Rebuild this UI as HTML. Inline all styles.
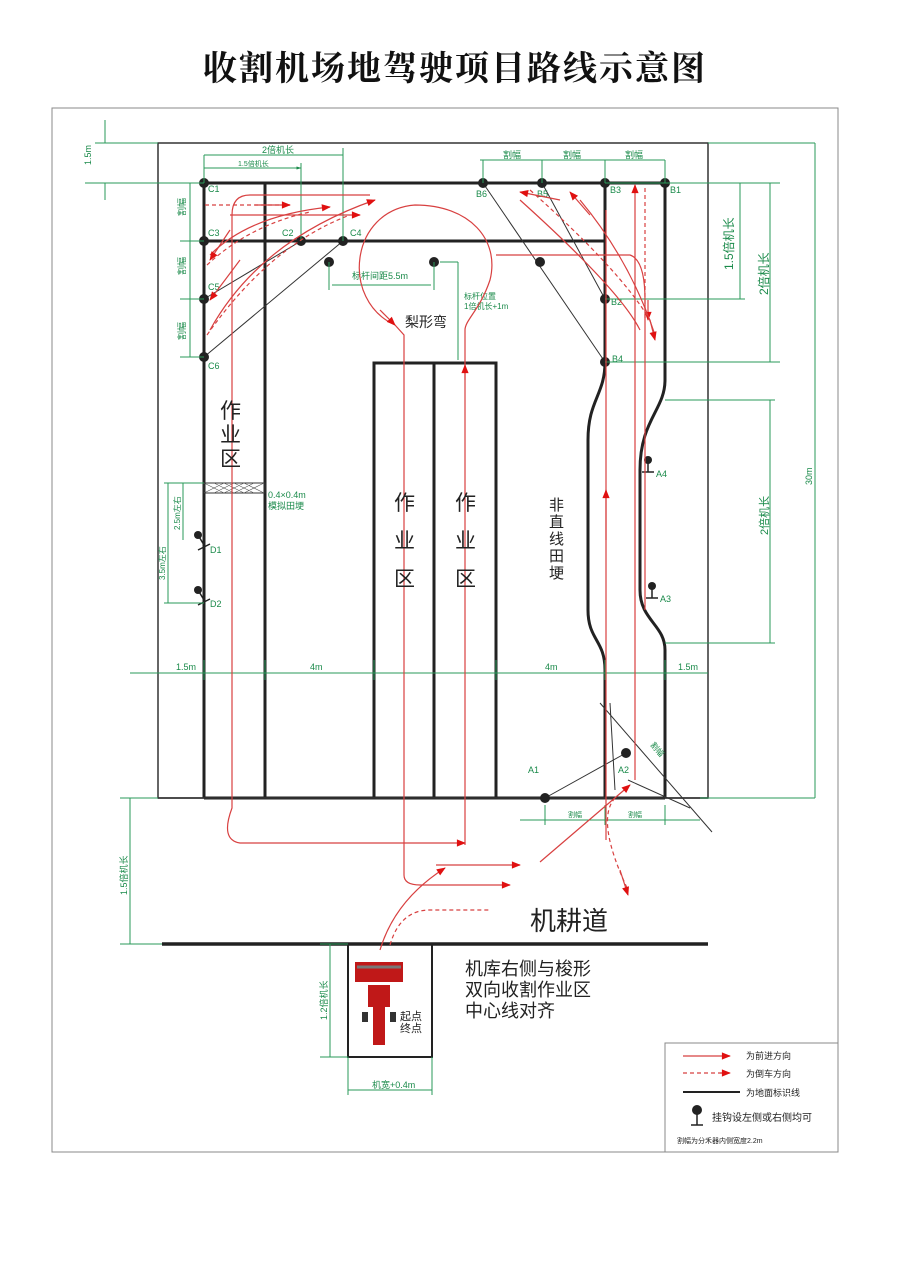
<!DOCTYPE html>
<html><head><meta charset="utf-8"><style>
body{margin:0;background:#fff}
svg{display:block}
text{font-family:"Liberation Sans","Noto Sans CJK SC",sans-serif}
.g{fill:#1a8a4a;font-size:9px}
.gl{stroke:#2a9a5a;stroke-width:1;fill:none}
.k{stroke:#222;stroke-width:3;fill:none}
.t{stroke:#333;stroke-width:1;fill:none}
.r{stroke:#d84040;stroke-width:1.2;fill:none}
.rd{stroke:#d84040;stroke-width:1.2;fill:none;stroke-dasharray:4 3}
</style></head><body>
<svg width="900" height="1271" viewBox="0 0 900 1271">
<defs>
<marker id="ah" viewBox="0 0 10 10" refX="9" refY="5" markerWidth="20" markerHeight="9" orient="auto" markerUnits="userSpaceOnUse"><path d="M0,1 L10,5 L0,9 Z" fill="#e01010"/></marker>
<marker id="ga" viewBox="0 0 10 10" refX="9" refY="5" markerWidth="8" markerHeight="5" orient="auto-start-reverse" markerUnits="userSpaceOnUse"><path d="M0,2 L10,5 L0,8 Z" fill="#1a8a4a"/></marker>
</defs>
<text x="455" y="80" text-anchor="middle" style="font-family:'Liberation Serif','Noto Serif CJK SC',serif;font-weight:bold;font-size:34px;letter-spacing:2px" fill="#111">收割机场地驾驶项目路线示意图</text>
<rect x="52" y="108" width="786" height="1044" fill="none" stroke="#888" stroke-width="1"/>
<rect x="158" y="143" width="550" height="655" fill="none" stroke="#333" stroke-width="1.5"/>

<path class="k" d="M204,183 V798 M265,183 V798 M204,183 H665 M204,241 H605 M605,183 V362 C605,395 588,400 588,440 V610 C588,640 605,640 605,670 V798 M665,183 V380 C665,410 640,420 640,470 V590 C640,620 665,625 665,650 V798"/>
<path class="k" d="M374,798 V363 H496 V798 M434,363 V798 M204,798 H665"/>
<path d="M158,798 H708" stroke="#333" stroke-width="1.5"/>
<path d="M162,944 H708" stroke="#222" stroke-width="3.5"/>
<path d="M348,944 V1057 H432 V944" stroke="#222" stroke-width="2" fill="none"/>

<path class="t" d="M204,299 L301,241 M204,357 L343,241 M483,183 L605,362 M542,183 L605,299 M545,798 L626,753"/>
<path class="t" d="M600,703 L712,832 M610,703 L615,790 M628,780 L690,808"/>
<rect x="204" y="483" width="61" height="10" fill="none" stroke="#333"/>
<path d="M204,483 L224,493 M214,483 L234,493 M224,483 L244,493 M234,483 L254,493 M244,483 L264,493 M204,493 L224,483 M214,493 L234,483 M224,493 L244,483 M234,493 L254,483 M244,493 L264,483" stroke="#555" stroke-width="0.6"/>

<g fill="#222">
<circle cx="204" cy="183" r="5"/><circle cx="204" cy="241" r="5"/><circle cx="204" cy="299" r="5"/><circle cx="204" cy="357" r="5"/>
<circle cx="301" cy="241" r="5"/><circle cx="343" cy="241" r="5"/><circle cx="329" cy="262" r="5"/><circle cx="434" cy="262" r="5"/>
<circle cx="483" cy="183" r="5"/><circle cx="542" cy="183" r="5"/><circle cx="605" cy="183" r="5"/><circle cx="665" cy="183" r="5"/>
<circle cx="605" cy="299" r="5"/><circle cx="605" cy="362" r="5"/><circle cx="540" cy="262" r="5"/>
<circle cx="545" cy="798" r="5"/><circle cx="626" cy="753" r="5"/>
<circle cx="648" cy="460" r="4"/><circle cx="652" cy="586" r="4"/><circle cx="198" cy="535" r="4"/><circle cx="198" cy="590" r="4"/>
</g>
<path d="M648,460 V472 M642,472 H654 M652,586 V598 M646,598 H658 M198,535 L204,545 M198,550 L210,544 M198,590 L204,600 M198,605 L210,599" stroke="#222" stroke-width="1.5"/>
<g class="g" style="font-size:9px">
<text x="208" y="192">C1</text><text x="208" y="236">C3</text><text x="208" y="290">C5</text><text x="208" y="369">C6</text>
<text x="282" y="236">C2</text><text x="350" y="236">C4</text>
<text x="476" y="197">B6</text><text x="537" y="197">B5</text><text x="610" y="193">B3</text><text x="670" y="193">B1</text>
<text x="611" y="305">B2</text><text x="612" y="362">B4</text>
<text x="528" y="773">A1</text><text x="618" y="773">A2</text><text x="656" y="477">A4</text><text x="660" y="602">A3</text>
<text x="210" y="553">D1</text><text x="210" y="607">D2</text>
</g>

<g class="gl">
<path d="M95,143 H158 M85,183 H204 M105,120 V143 M105,183 V200"/>
<path d="M204,155 V183 M343,148 V241 M301,163 V241 M204,155 H343 M204,168 H301" marker-end="url(#ga)"/>
<path d="M180,183 H204 M180,241 H204 M180,299 H204 M180,357 H204 M190,183 V357"/>
<path d="M480,160 H665 M483,160 V183 M542,160 V183 M605,160 V183 M665,160 V183"/>
<path d="M605,183 H780 M605,299 H745 M605,362 H780 M740,183 V299 M770,183 V362"/>
<path d="M708,143 H815 M815,143 V798 M700,798 H815"/>
<path d="M665,400 H775 M665,643 H775 M770,400 V643"/>
<path d="M130,673 H708 M204,660 V680 M265,660 V680 M374,660 V680 M496,660 V680 M605,660 V680 M665,660 V680"/>
<path d="M329,262 V290 M434,262 V290 M332,285 H431 M440,262 H458 M458,262 V360"/>
<path d="M164,483 H204 M168,483 V603 M183,483 V540 M164,603 H204"/>
<path d="M120,798 H158 M130,798 V944 M120,944 H162"/>
<path d="M320,944 H348 M320,1057 H348 M330,944 V1057 M348,1057 V1095 M432,1057 V1095 M348,1090 H432"/>
<path d="M520,820 H700 M545,805 V825 M605,805 V825 M665,805 V825"/>
</g>
<g class="g">
<text x="91" y="165" transform="rotate(-90 91 165)">1.5m</text>
<text x="262" y="153">2倍机长</text><text x="238" y="166" style="font-size:7px">1.5倍机长</text>
<text x="185" y="216" transform="rotate(-90 185 216)">割幅</text><text x="185" y="275" transform="rotate(-90 185 275)">割幅</text><text x="185" y="340" transform="rotate(-90 185 340)">割幅</text>
<text x="503" y="158">割幅</text><text x="563" y="158">割幅</text><text x="625" y="158">割幅</text>
<text x="733" y="270" transform="rotate(-90 733 270)" style="font-size:12px">1.5倍机长</text>
<text x="768" y="295" transform="rotate(-90 768 295)" style="font-size:12px">2倍机长</text>
<text x="812" y="485" transform="rotate(-90 812 485)">30m</text>
<text x="768" y="535" transform="rotate(-90 768 535)" style="font-size:11px">2倍机长</text>
<text x="176" y="670">1.5m</text><text x="310" y="670">4m</text><text x="545" y="670">4m</text><text x="678" y="670">1.5m</text>
<text x="352" y="279">标杆间距5.5m</text>
<text x="464" y="299" style="font-size:8px">标杆位置</text><text x="464" y="309" style="font-size:8px">1倍机长+1m</text>
<text x="268" y="498">0.4×0.4m</text><text x="268" y="509">模拟田埂</text>
<text x="165" y="580" transform="rotate(-90 165 580)" style="font-size:8px">3.5m左右</text>
<text x="180" y="530" transform="rotate(-90 180 530)" style="font-size:8px">2.5m左右</text>
<text x="127" y="895" transform="rotate(-90 127 895)">1.5倍机长</text>
<text x="327" y="1020" transform="rotate(-90 327 1020)">1.2倍机长</text>
<text x="372" y="1088">机宽+0.4m</text>
<text x="568" y="817" style="font-size:7px">割幅</text><text x="628" y="817" style="font-size:7px">割幅</text>
<text x="650" y="745" transform="rotate(50 650 745)" style="font-size:8px">割幅</text>
</g>

<path class="r" d="M232,798 V215 Q232,195 250,195 H370"/>
<path class="r" d="M230,215 H360" marker-end="url(#ah)"/>
<path class="rd" d="M205,205 H290" />
<path class="r" d="M255,205 L290,205" marker-end="url(#ah)"/>
<path class="r" d="M210,255 Q250,215 330,207" marker-end="url(#ah)"/>
<path class="r" d="M210,330 Q260,240 375,200" marker-end="url(#ah)"/>
<path class="rd" d="M207,265 Q250,225 310,212"/>
<path class="rd" d="M207,335 Q270,245 350,215"/>
<path class="r" d="M230,230 L210,260" marker-end="url(#ah)"/>
<path class="r" d="M240,260 L210,300" marker-end="url(#ah)"/>
<path class="r" d="M404,798 V335 L395,325 C340,300 350,210 415,205 C470,205 500,240 490,280 C480,310 465,320 465,330 V380"/>
<path class="r" d="M380,310 L395,325" marker-end="url(#ah)"/>
<path class="r" d="M465,845 V365" marker-end="url(#ah)"/>
<path class="r" d="M404,798 V875 Q404,885 420,885 H510" marker-end="url(#ah)"/>
<path class="r" d="M232,798 V808 Q220,840 240,843 H465" marker-end="url(#ah)"/>
<path class="r" d="M436,865 H520" marker-end="url(#ah)"/>
<path class="r" d="M540,862 L630,785" marker-end="url(#ah)"/>
<path class="r" d="M380,950 Q395,900 445,868" marker-end="url(#ah)"/>
<path class="rd" d="M390,945 Q400,910 430,910 H490"/>
<path class="rd" d="M615,798 Q595,820 628,890"/>
<path class="r" d="M620,870 L628,895" marker-end="url(#ah)"/>
<path class="r" d="M606,840 V210 " />
<path class="r" d="M606,540 V490" marker-end="url(#ah)"/>
<path class="r" d="M635,330 V185" marker-end="url(#ah)"/>
<path class="r" d="M635,330 V780 M645,610 V300 Q645,260 630,255 H496"/>
<path class="rd" d="M645,188 V318"/>
<path class="r" d="M648,300 L648,320" marker-end="url(#ah)"/>
<path class="r" d="M520,200 Q620,290 640,330" /><path class="r" d="M560,200 L520,192" marker-end="url(#ah)"/>
<path class="r" d="M580,200 Q630,260 655,335"/><path class="r" d="M590,215 L570,192" marker-end="url(#ah)"/>
<path class="rd" d="M530,190 Q620,270 650,320"/>
<path class="r" d="M650,320 L655,340" marker-end="url(#ah)"/>

<g style="font-size:21px" fill="#222">
<text x="220" y="418">作</text><text x="220" y="442">业</text><text x="220" y="466">区</text>
<text x="394" y="510">作</text><text x="394" y="548">业</text><text x="394" y="586">区</text>
<text x="455" y="510">作</text><text x="455" y="548">业</text><text x="455" y="586">区</text>
</g>
<g style="font-size:15px" fill="#222">
<text x="549" y="510">非</text><text x="549" y="527">直</text><text x="549" y="544">线</text><text x="549" y="561">田</text><text x="549" y="578">埂</text>
</g>
<text x="405" y="327" style="font-size:14px" fill="#222">梨形弯</text>
<text x="530" y="930" style="font-size:26px" fill="#222">机耕道</text>
<g style="font-size:18px" fill="#222">
<text x="465" y="975">机库右侧与梭形</text><text x="465" y="996">双向收割作业区</text><text x="465" y="1017">中心线对齐</text>
</g>
<text x="400" y="1020" style="font-size:11px" fill="#222">起点</text><text x="400" y="1032" style="font-size:11px" fill="#222">终点</text>
<g fill="#c01818">
<rect x="355" y="962" width="48" height="20"/>
<rect x="368" y="985" width="22" height="22"/>
<rect x="373" y="1007" width="12" height="38"/>
<rect x="362" y="1012" width="6" height="10" fill="#333"/><rect x="390" y="1012" width="6" height="10" fill="#333"/>
</g>
<path d="M357,967 H401" stroke="#777" stroke-width="3"/>

<rect x="665" y="1043" width="173" height="109" fill="none" stroke="#888"/>
<path class="r" d="M683,1056 H730" marker-end="url(#ah)"/>
<path class="rd" d="M683,1073 H730"/><path class="r" d="M720,1073 H730" marker-end="url(#ah)"/>
<path d="M683,1092 H740" stroke="#222" stroke-width="2"/>
<circle cx="697" cy="1110" r="5" fill="#222"/><path d="M697,1110 V1125 M691,1125 H703" stroke="#222" stroke-width="1.5"/>
<g style="font-size:9px" fill="#222">
<text x="746" y="1059">为前进方向</text><text x="746" y="1077">为倒车方向</text><text x="746" y="1096">为地面标识线</text>
<text x="712" y="1121" style="font-size:10px">挂钩设左侧或右侧均可</text>
<text x="677" y="1143" style="font-size:7px">割幅为分禾器内侧宽度2.2m</text>
</g>
</svg>
</body></html>
